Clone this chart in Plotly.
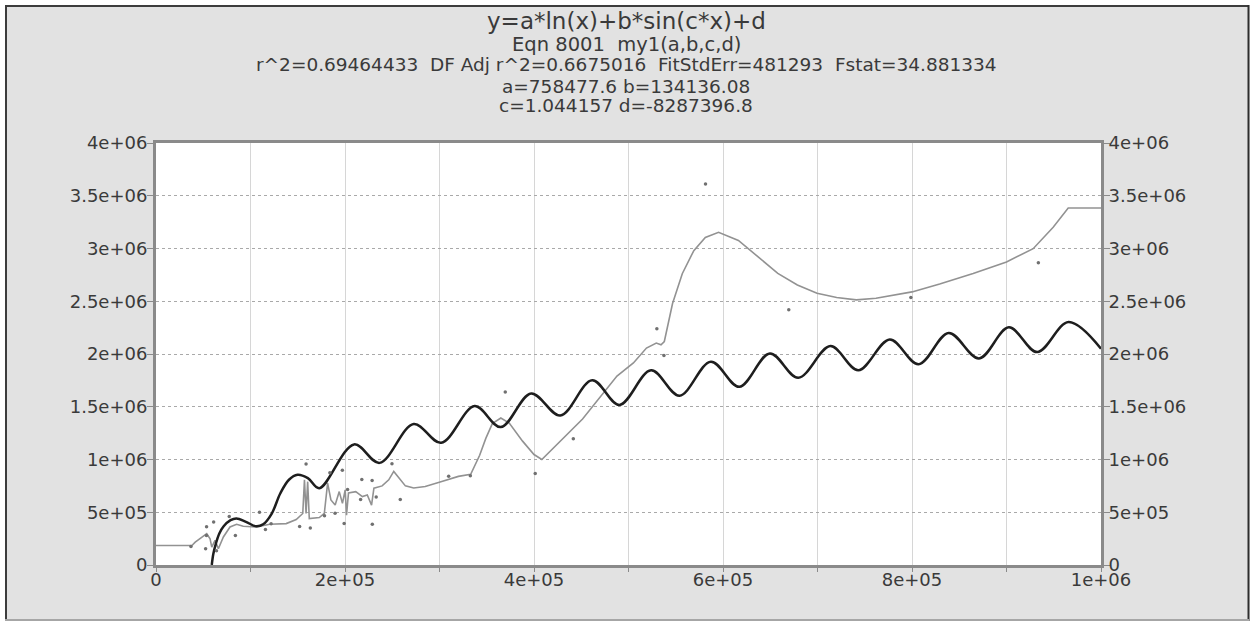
import plotly.graph_objects as go

# ---------------- data ----------------
# fitted curve (black), key points
fit_x = [59000, 60650, 63300, 66900, 71600, 78900, 85100, 95200, 106100, 113400,
         122500, 131600, 140700, 149800, 160700, 172800, 209600, 236600, 272700,
         301800, 337200, 364800, 397000, 427800, 461600, 490300, 523900, 553900,
         587200, 617200, 649600, 679600, 713700, 743200, 776500, 806900, 838800,
         870900, 902500, 932500, 965700, 1000000]
fit_y = [0, 105000, 201000, 297000, 367000, 425000, 441000, 409000, 367000, 386000,
         488000, 680000, 808000, 855000, 823000, 728000, 1143000, 968000, 1336000,
         1158000, 1506000, 1307000, 1626500, 1417000, 1751700, 1517000, 1845500,
         1604800, 1927000, 1689100, 2005700, 1774400, 2074900, 1846400, 2137500,
         1902400, 2200000, 1958300, 2253100, 2018000, 2303300, 2050000]

# smoothed data line (gray)
data_line_x = [0, 38000, 41500, 48500, 53700, 57200, 59000, 62500, 66000, 71300,
               78300, 85300, 92300, 106300, 120300, 137800, 148400, 155300, 157100,
               158800, 160500, 162200, 164200, 172800, 178100, 181600, 185100,
               189600, 193900, 197300, 200200, 201600, 203700, 211400, 218400,
               223600, 228100, 230600, 239300, 246300, 251600, 256900, 263900,
               272700, 284900, 302400, 320000, 333000, 342500, 349000, 355900,
               364900, 373800, 387900, 400000, 408300, 451400, 487800, 505200,
               519000, 529400, 534400, 537900, 546600, 556900, 569100, 581300,
               595300, 616300, 637200, 658000, 678700, 699500, 720300, 741100,
               761900, 800000, 829300, 864700, 900000, 928200, 949400, 965300,
               1000000]
data_line_y = [184800, 184800, 217000, 265400, 296700, 249300, 168700, 233200, 153600,
               265400, 360200, 385800, 366800, 360200, 385800, 392400, 431300, 488200,
               807600, 488200, 790000, 440000, 440700, 450200, 488200, 775500, 616100,
               567800, 695700, 583900, 711000, 472000, 682500, 695700, 648300, 663500,
               567800, 728000, 749800, 807600, 887200, 823700, 749800, 730000, 744100,
               791500, 839800, 860000, 1040000, 1200000, 1340000, 1393000, 1346000,
               1174000, 1047000, 1000000, 1384000, 1791500, 1914700, 2056000, 2103300,
               2087200, 2118500, 2478700, 2761200, 2980100, 3105200, 3153600, 3076800,
               2920400, 2764000, 2654000, 2575400, 2535600, 2512800, 2528900, 2588600,
               2662600, 2763100, 2873000, 2998000, 3202000, 3384000, 3384000]

# raw data points (gray dots)
pts_x = [37000, 53500, 61000, 53400, 52500, 64000, 77500, 84000, 109500, 115800,
         121800, 152000, 158800, 163300, 178300, 184000, 189500, 197200, 199100,
         202700, 216500, 217800, 228700, 228900, 233000, 249700, 258500, 309700,
         332600, 369600, 401300, 441600, 530000, 537500, 581500, 669600, 798800,
         933700]
pts_y = [175000, 363000, 408000, 280000, 155000, 135000, 460000, 280600, 500000,
         337000, 392000, 364000, 958000, 350000, 467000, 875000, 490000, 897000,
         392400, 715000, 620000, 810000, 800000, 386000, 645000, 960000, 620000,
         842000, 845000, 1640000, 868000, 1197000, 2240000, 1986000, 3612000,
         2419000, 2536000, 2864000]

x_ticks = [0, 100000, 200000, 300000, 400000, 500000, 600000, 700000, 800000, 900000, 1000000]
x_labels = ["0", "", "2e+05", "", "4e+05", "", "6e+05", "", "8e+05", "", "1e+06"]
y_ticks = [0, 500000, 1000000, 1500000, 2000000, 2500000, 3000000, 3500000, 4000000]
y_labels = ["0", "5e+05", "1e+06", "1.5e+06", "2e+06", "2.5e+06", "3e+06", "3.5e+06", "4e+06"]

title_lines = [
    "y=a*ln(x)+b*sin(c*x)+d",
    "Eqn 8001\u00a0\u00a0my1(a,b,c,d)",
    "r^2=0.69464433\u00a0 DF Adj r^2=0.6675016\u00a0 FitStdErr=481293\u00a0 Fstat=34.881334",
    "a=758477.6 b=134136.08",
    "c=1.044157 d=-8287396.8",
]

# ---------------- layout geometry ----------------
W, H = 1251, 622
L, R, T, B = 156, 1101, 143, 565
FONT = "DejaVu Sans"
TXT = "#3a3a3a"


def px(xp):
    return (xp - L) / (R - L)


def py(yp):
    return (B - yp) / (B - T)


fig = go.Figure()

fig.add_trace(go.Scatter(
    x=data_line_x, y=data_line_y, mode="lines",
    line=dict(color="#929292", width=1.6), hoverinfo="skip"))
fig.add_trace(go.Scatter(
    x=fit_x, y=fit_y, mode="lines",
    line=dict(color="#1e1e1e", width=2.5, shape="spline", smoothing=1.0),
    hoverinfo="skip"))
fig.add_trace(go.Scatter(
    x=pts_x, y=pts_y, mode="markers", yaxis="y2",
    marker=dict(color="#707070", size=3.5), hoverinfo="skip"))

axis_common = dict(
    showline=True, linecolor="#8a8a8a", linewidth=3,
    ticks="outside", tickcolor="#8a8a8a", tickwidth=1,
    tickfont=dict(family=FONT, size=18, color=TXT),
    zeroline=False, fixedrange=True,
)

fig.update_layout(
    width=W, height=H,
    margin=dict(l=L, r=W - R, t=T, b=H - B, pad=0),
    paper_bgcolor="#e2e2e2", plot_bgcolor="#ffffff",
    showlegend=False,
    xaxis=dict(range=[0, 1000000], tickmode="array", tickvals=x_ticks, ticktext=x_labels,
               showgrid=True, gridcolor="#d6d6d6", gridwidth=1, ticklen=4, mirror=True,
               ticklabelstandoff=-8, **axis_common),
    yaxis=dict(range=[0, 4000000], tickmode="array", tickvals=y_ticks, ticktext=y_labels,
               showgrid=True, gridcolor="#a9a9a9", gridwidth=1, griddash="dot", ticklen=6,
               ticklabelstandoff=-4, **axis_common),
    yaxis2=dict(range=[0, 4000000], tickmode="array", tickvals=y_ticks, ticktext=y_labels,
                overlaying="y", side="right", showgrid=False, ticklen=6,
                ticklabelstandoff=-5, **axis_common),
)

# title block
title_y = [21, 44, 65, 86, 106]
title_size = [23, 19.5, 18.5, 18.5, 18.5]
for txt, yp, sz in zip(title_lines, title_y, title_size):
    fig.add_annotation(text=txt, xref="paper", yref="paper", x=px(626), y=py(yp),
                       xanchor="center", yanchor="middle", showarrow=False,
                       font=dict(family=FONT, size=sz, color=TXT))

# outer frame of the picture
shapes = []
# white outside edges
shapes.append(dict(type="rect", xref="paper", yref="paper", x0=px(-5), x1=px(5), y0=py(-5), y1=py(H + 5),
                   fillcolor="white", line=dict(width=0), layer="above"))
shapes.append(dict(type="rect", xref="paper", yref="paper", x0=px(-5), x1=px(W + 5), y0=py(-5), y1=py(5),
                   fillcolor="white", line=dict(width=0), layer="above"))
shapes.append(dict(type="rect", xref="paper", yref="paper", x0=px(1249.5), x1=px(W + 5), y0=py(-5), y1=py(H + 5),
                   fillcolor="white", line=dict(width=0), layer="above"))
shapes.append(dict(type="rect", xref="paper", yref="paper", x0=px(-5), x1=px(W + 5), y0=py(621), y1=py(H + 5),
                   fillcolor="white", line=dict(width=0), layer="above"))
# frame lines
shapes.append(dict(type="line", xref="paper", yref="paper", x0=px(5), x1=px(1249), y0=py(6), y1=py(6),
                   line=dict(color="#3c3c3c", width=2), layer="above"))
shapes.append(dict(type="line", xref="paper", yref="paper", x0=px(6), x1=px(6), y0=py(5), y1=py(620),
                   line=dict(color="#3c3c3c", width=2), layer="above"))
shapes.append(dict(type="line", xref="paper", yref="paper", x0=px(1248.5), x1=px(1248.5), y0=py(5), y1=py(621),
                   line=dict(color="#2e2e2e", width=2), layer="above"))
shapes.append(dict(type="line", xref="paper", yref="paper", x0=px(5), x1=px(1249), y0=py(620), y1=py(620),
                   line=dict(color="#a6a6a6", width=2), layer="above"))
fig.update_layout(shapes=shapes)

fig.write_html("out.html", config={"displayModeBar": False},
               post_script="document.body.style.margin='0px';")
